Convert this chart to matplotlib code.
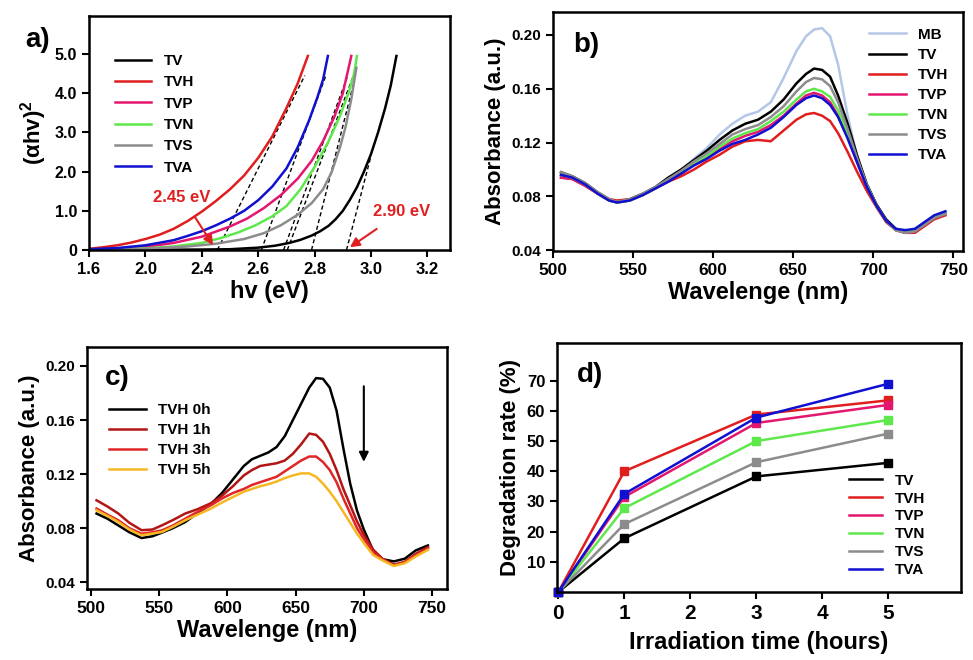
import matplotlib.pyplot as plt
from matplotlib.lines import Line2D

plt.rcParams['font.family'] = ['Liberation Sans', 'DejaVu Sans']
plt.rcParams['font.weight'] = 'bold'
plt.rcParams['axes.labelweight'] = 'bold'
plt.rcParams['axes.linewidth'] = 1.8
plt.rcParams['xtick.major.width'] = 1.5
plt.rcParams['ytick.major.width'] = 1.5
plt.rcParams['xtick.major.size'] = 5
plt.rcParams['ytick.major.size'] = 5
plt.rcParams['mathtext.fontset'] = 'custom'
plt.rcParams['mathtext.bf'] = 'Liberation Sans:bold'

# colours per sample
colors = {'MB': '#b4c7e7', 'TV': '#000000', 'TVH': '#e01e1e', 'TVP': '#e4176e',
          'TVN': '#5fe84c', 'TVS': '#8c8c8c', 'TVA': '#1010d0'}
samples = ['TV', 'TVH', 'TVP', 'TVN', 'TVS', 'TVA']

# ---- panel a: Tauc plot ----
tauc_x = {
    'TV': [2.00, 2.20, 2.40, 2.50, 2.60, 2.66, 2.71, 2.75, 2.79, 2.82, 2.85, 2.875,
           2.90, 2.925, 2.95, 2.975, 3.00, 3.025, 3.05, 3.07, 3.09],
    'TVH': [2.00, 2.05, 2.10, 2.15, 2.20, 2.25, 2.30, 2.35, 2.40, 2.45, 2.50, 2.55,
            2.60, 2.65, 2.70, 2.74, 2.776],
    'TVP': [2.00, 2.10, 2.20, 2.30, 2.40, 2.50, 2.56, 2.62, 2.68, 2.74, 2.79, 2.83,
            2.87, 2.90, 2.93],
    'TVN': [2.00, 2.20, 2.30, 2.40, 2.47, 2.53, 2.59, 2.65, 2.70, 2.75, 2.80, 2.85,
            2.89, 2.92, 2.94, 2.95],
    'TVS': [2.00, 2.20, 2.35, 2.45, 2.55, 2.62, 2.68, 2.74, 2.79, 2.83, 2.86, 2.89,
            2.91, 2.93, 2.948],
    'TVA': [2.00, 2.10, 2.20, 2.30, 2.35, 2.40, 2.45, 2.50, 2.55, 2.60, 2.65, 2.70,
            2.74, 2.78, 2.81, 2.83, 2.847],
}
tauc_y = {
    'TV': [0.0, 0.005, 0.012, 0.02, 0.06, 0.11, 0.18, 0.26, 0.37, 0.48, 0.62, 0.79,
           1.00, 1.28, 1.60, 2.00, 2.45, 3.00, 3.62, 4.20, 4.95],
    'TVH': [0.03, 0.07, 0.12, 0.19, 0.28, 0.39, 0.54, 0.74, 0.98, 1.25, 1.55, 1.90,
            2.35, 2.90, 3.62, 4.25, 4.95],
    'TVP': [0.01, 0.03, 0.08, 0.18, 0.34, 0.60, 0.80, 1.07, 1.40, 1.82, 2.28, 2.78,
            3.40, 4.00, 4.95],
    'TVN': [0.01, 0.04, 0.09, 0.18, 0.31, 0.45, 0.63, 0.86, 1.12, 1.55, 2.12, 2.78,
            3.42, 4.00, 4.50, 4.95],
    'TVS': [0.01, 0.03, 0.09, 0.16, 0.28, 0.43, 0.63, 0.90, 1.20, 1.55, 1.98, 2.62,
            3.15, 3.85, 4.65],
    'TVA': [0.02, 0.05, 0.12, 0.25, 0.36, 0.48, 0.63, 0.80, 1.00, 1.27, 1.62, 2.08,
            2.62, 3.30, 3.90, 4.35, 4.95],
}
# linear fits: x-intercept and upper end point
fit_x0 = [2.913, 2.455, 2.690, 2.703, 2.789, 2.611]
fit_x1 = [3.000, 2.765, 2.915, 2.935, 2.940, 2.840]
fit_y1 = [2.40, 4.45, 4.40, 4.40, 4.30, 4.45]
tauc_ticks = [2.0, 2.2, 2.4, 2.6, 2.8, 3.0, 3.2]
tauc_ticklabels = ['1.6', '2.0', '2.4', '2.6', '2.8', '3.0', '3.2']

# ---- panel b: absorbance after adsorption ----
wl_b = [505, 512, 520, 528, 535, 540, 548, 556, 564, 572, 580, 588, 596, 604, 612, 620,
        628, 636, 644, 652, 658, 663, 668, 673, 678, 684, 690, 696, 702, 708, 714, 720,
        726, 732, 738, 745]
abs_b = {
    'MB': [0.097, 0.094, 0.089, 0.082, 0.077, 0.0755, 0.078, 0.082, 0.087, 0.094, 0.100, 0.108,
           0.116, 0.126, 0.134, 0.140, 0.143, 0.150, 0.168, 0.188, 0.199, 0.204, 0.205, 0.199,
           0.178, 0.140, 0.109, 0.088, 0.074, 0.063, 0.056, 0.054, 0.055, 0.060, 0.065, 0.068],
    'TV': [0.098, 0.095, 0.090, 0.083, 0.078, 0.076, 0.078, 0.082, 0.087, 0.094, 0.100, 0.107,
           0.114, 0.122, 0.129, 0.134, 0.137, 0.143, 0.152, 0.164, 0.171, 0.175, 0.174, 0.169,
           0.155, 0.134, 0.110, 0.089, 0.074, 0.063, 0.056, 0.053, 0.054, 0.059, 0.064, 0.067],
    'TVH': [0.094, 0.093, 0.088, 0.082, 0.078, 0.077, 0.078, 0.081, 0.086, 0.091, 0.095, 0.100,
            0.106, 0.111, 0.117, 0.121, 0.122, 0.121, 0.129, 0.137, 0.141, 0.142, 0.140, 0.136,
            0.127, 0.113, 0.098, 0.084, 0.072, 0.061, 0.055, 0.053, 0.053, 0.058, 0.063, 0.066],
    'TVP': [0.094, 0.093, 0.088, 0.082, 0.077, 0.0755, 0.077, 0.081, 0.086, 0.092, 0.097, 0.104,
            0.109, 0.115, 0.121, 0.125, 0.128, 0.133, 0.140, 0.149, 0.155, 0.157, 0.155, 0.150,
            0.140, 0.124, 0.105, 0.087, 0.073, 0.062, 0.055, 0.053, 0.054, 0.059, 0.064, 0.067],
    'TVN': [0.096, 0.094, 0.089, 0.082, 0.077, 0.0755, 0.077, 0.081, 0.086, 0.092, 0.098, 0.105,
            0.110, 0.117, 0.123, 0.127, 0.130, 0.136, 0.143, 0.152, 0.158, 0.160, 0.158, 0.154,
            0.144, 0.127, 0.107, 0.088, 0.073, 0.062, 0.055, 0.054, 0.055, 0.060, 0.065, 0.068],
    'TVS': [0.098, 0.095, 0.090, 0.083, 0.078, 0.076, 0.078, 0.082, 0.087, 0.093, 0.099, 0.106,
            0.112, 0.119, 0.126, 0.130, 0.133, 0.139, 0.147, 0.158, 0.165, 0.168, 0.167, 0.162,
            0.150, 0.130, 0.108, 0.088, 0.073, 0.062, 0.055, 0.053, 0.054, 0.059, 0.064, 0.067],
    'TVA': [0.096, 0.094, 0.089, 0.082, 0.077, 0.0755, 0.077, 0.081, 0.086, 0.091, 0.097, 0.103,
            0.108, 0.114, 0.119, 0.122, 0.126, 0.131, 0.139, 0.148, 0.153, 0.155, 0.153, 0.148,
            0.139, 0.123, 0.105, 0.087, 0.073, 0.062, 0.056, 0.055, 0.056, 0.061, 0.066, 0.069],
}
b_order = ['MB', 'TV', 'TVH', 'TVP', 'TVN', 'TVS', 'TVA']

# ---- panel c: TVH with irradiation time ----
wl_c = [504, 512, 520, 528, 537, 545, 552, 560, 569, 578, 588, 596, 604, 612, 618, 624,
        630, 636, 642, 648, 654, 660, 665, 670, 675, 680, 685, 690, 695, 700, 707, 714,
        722, 730, 738, 747]
tvh_0h = [0.0908, 0.087, 0.082, 0.077, 0.0727, 0.074, 0.0767, 0.080, 0.0845, 0.091, 0.098,
          0.106, 0.116, 0.126, 0.131, 0.1335, 0.136, 0.140, 0.148, 0.160, 0.172, 0.184,
          0.191, 0.1905, 0.184, 0.167, 0.139, 0.113, 0.093, 0.079, 0.063,
          0.057, 0.0554, 0.0574, 0.0635, 0.0672]
tvh_1h = [0.1006, 0.096, 0.0908, 0.084, 0.0785, 0.079, 0.0821, 0.086, 0.0908, 0.094, 0.0985,
          0.104, 0.111, 0.119, 0.123, 0.126, 0.127, 0.128, 0.130, 0.135, 0.142, 0.150,
          0.149, 0.144, 0.135, 0.123, 0.109, 0.097, 0.085, 0.075, 0.064,
          0.057, 0.053, 0.055, 0.061, 0.066]
tvh_3h = [0.0945, 0.090, 0.0858, 0.080, 0.0759, 0.077, 0.0784, 0.082, 0.087, 0.092, 0.097,
          0.102, 0.106, 0.109, 0.112, 0.114, 0.116, 0.118, 0.122, 0.126, 0.130, 0.133,
          0.133, 0.129, 0.123, 0.114, 0.102, 0.091, 0.080, 0.072, 0.062,
          0.057, 0.0525, 0.055, 0.060, 0.065]
tvh_5h = [0.0932, 0.089, 0.0846, 0.079, 0.0747, 0.076, 0.0772, 0.081, 0.0858, 0.090, 0.0945,
          0.099, 0.103, 0.107, 0.109, 0.111, 0.1125, 0.1145, 0.117, 0.119, 0.1205, 0.1205,
          0.118, 0.113, 0.107, 0.100, 0.092, 0.084, 0.076, 0.069, 0.060,
          0.056, 0.052, 0.054, 0.059, 0.064]
c_labels = ['TVH 0h', 'TVH 1h', 'TVH 3h', 'TVH 5h']
c_colors = ['#000000', '#b31515', '#e02626', '#f5b822']

# ---- panel d: degradation rate ----
hours = [0, 1, 3, 5]
degradation = {
    'TV': [0, 17.8, 38.3, 42.8],
    'TVH': [0, 40.0, 58.8, 63.5],
    'TVP': [0, 31.5, 56.0, 62.0],
    'TVN': [0, 27.8, 50.0, 57.0],
    'TVS': [0, 22.5, 43.0, 52.5],
    'TVA': [0, 32.5, 57.8, 69.0],
}

fig = plt.figure(figsize=(9.73, 6.6), dpi=100)
W, H = 973, 660


def add_axes(l, r, t, b):
    return fig.add_axes([l / W, 1 - b / H, (r - l) / W, (b - t) / H])


ax_a = add_axes(89, 450, 16, 250)
ax_b = add_axes(553, 963, 12, 251)
ax_c = add_axes(87, 447, 347, 589)
ax_d = add_axes(557, 961, 343, 592)

# panel a
for i, s in enumerate(samples):
    ax_a.plot([fit_x0[i], fit_x1[i]], [0, fit_y1[i]], ls='--', color='k', lw=1.0, dashes=(3, 2))
for s in samples:
    ax_a.plot(tauc_x[s], tauc_y[s], color=colors[s], lw=1.8, label=s)
ax_a.set_xlim(2.0, 3.28)
ax_a.set_ylim(0, 5.97)
ax_a.set_xticks(tauc_ticks)
ax_a.set_xticklabels(tauc_ticklabels)
ax_a.set_yticks([0, 1, 2, 3, 4, 5])
ax_a.set_yticklabels(['0', '1.0', '2.0', '3.0', '4.0', '5.0'])
ax_a.set_xlabel('hv (eV)', fontsize=17, labelpad=2)
ax_a.set_ylabel(r'(αhv)$^{\mathbf{2}}$', fontsize=16, labelpad=4)
ax_a.tick_params(axis='x', labelsize=12)
ax_a.tick_params(axis='y', labelsize=11.5)
ax_a.legend(loc='upper left', bbox_to_anchor=(0.05, 0.87), frameon=False, fontsize=11,
            handlelength=2.4, labelspacing=0.48, borderpad=0)
ax_a.annotate('2.45 eV', xy=(2.44, 0.12), xytext=(2.33, 1.35), color='#e02020', fontsize=12,
              ha='center', va='center',
              arrowprops=dict(arrowstyle='-|>', color='#e02020', lw=1.5, mutation_scale=14,
                              shrinkA=8, shrinkB=0))
ax_a.annotate('2.90 eV', xy=(2.925, 0.07), xytext=(3.11, 0.98), color='#e02020', fontsize=12,
              ha='center', va='center',
              arrowprops=dict(arrowstyle='-|>', color='#e02020', lw=1.5, mutation_scale=14,
                              shrinkA=9, shrinkB=0))
fig.text(25 / W, 1 - 40 / H, 'a)', fontsize=20, fontweight='bold', va='center')

# panel b
for s in b_order:
    ax_b.plot(wl_b, abs_b[s], color=colors[s], lw=1.8, label=s)
ax_b.set_xlim(500, 756)
ax_b.set_ylim(0.0395, 0.217)
ax_b.set_xticks([500, 550, 600, 650, 700, 750])
ax_b.set_yticks([0.04, 0.08, 0.12, 0.16, 0.20])
ax_b.set_yticklabels(['0.04', '0.08', '0.12', '0.16', '0.20'])
ax_b.set_xlabel('Wavelenge (nm)', fontsize=17, labelpad=2)
ax_b.set_ylabel('Absorbance (a.u.)', fontsize=16, labelpad=4)
ax_b.tick_params(axis='x', labelsize=12.5)
ax_b.tick_params(axis='y', labelsize=11)
ax_b.legend(loc='upper right', bbox_to_anchor=(0.995, 0.985), frameon=False, fontsize=11,
            handlelength=2.4, labelspacing=0.4, borderpad=0.3)
ax_b.text(0.05, 0.86, 'b)', transform=ax_b.transAxes, fontsize=20, fontweight='bold',
          va='center')

# panel c
for vals, lab, col in zip([tvh_0h, tvh_1h, tvh_3h, tvh_5h], c_labels, c_colors):
    ax_c.plot(wl_c, vals, color=col, lw=1.8, label=lab)
ax_c.set_xlim(497, 761)
ax_c.set_ylim(0.035, 0.214)
ax_c.set_xticks([500, 550, 600, 650, 700, 750])
ax_c.set_yticks([0.04, 0.08, 0.12, 0.16, 0.20])
ax_c.set_yticklabels(['0.04', '0.08', '0.12', '0.16', '0.20'])
ax_c.set_xlabel('Wavelenge (nm)', fontsize=17, labelpad=2)
ax_c.set_ylabel('Absorbance (a.u.)', fontsize=16, labelpad=4)
ax_c.tick_params(axis='x', labelsize=12.5)
ax_c.tick_params(axis='y', labelsize=11)
ax_c.legend(loc='upper left', bbox_to_anchor=(0.04, 0.8), frameon=False, fontsize=11,
            handlelength=2.4, labelspacing=0.4, borderpad=0)
ax_c.annotate('', xy=(700, 0.127), xytext=(700, 0.187),
              arrowprops=dict(arrowstyle='-|>', color='k', lw=1.5, mutation_scale=14))
ax_c.text(0.05, 0.87, 'c)', transform=ax_c.transAxes, fontsize=20, fontweight='bold',
          va='center')

# panel d
for s in samples:
    ax_d.plot(hours, degradation[s], color=colors[s], lw=1.8, marker='s', markersize=6,
              clip_on=False)
ax_d.set_xlim(-0.02, 6.1)
ax_d.set_ylim(0, 82.5)
ax_d.set_xticks([0, 1, 2, 3, 4, 5])
ax_d.set_yticks([10, 20, 30, 40, 50, 60, 70])
ax_d.tick_params(axis='x', labelsize=15)
ax_d.tick_params(axis='y', labelsize=12)
ax_d.set_xlabel('Irradiation time (hours)', fontsize=17, labelpad=6)
ax_d.set_ylabel('Degradation rate (%)', fontsize=16, labelpad=4)
d_handles = [Line2D([], [], color=colors[s], lw=1.8) for s in samples]
ax_d.legend(d_handles, samples, loc='lower right', bbox_to_anchor=(0.93, 0.03), frameon=False,
            fontsize=11, handlelength=2.2, labelspacing=0.25, borderpad=0)
ax_d.text(0.05, 0.87, 'd)', transform=ax_d.transAxes, fontsize=20, fontweight='bold',
          va='center')

fig.savefig('out.png', dpi=100)
